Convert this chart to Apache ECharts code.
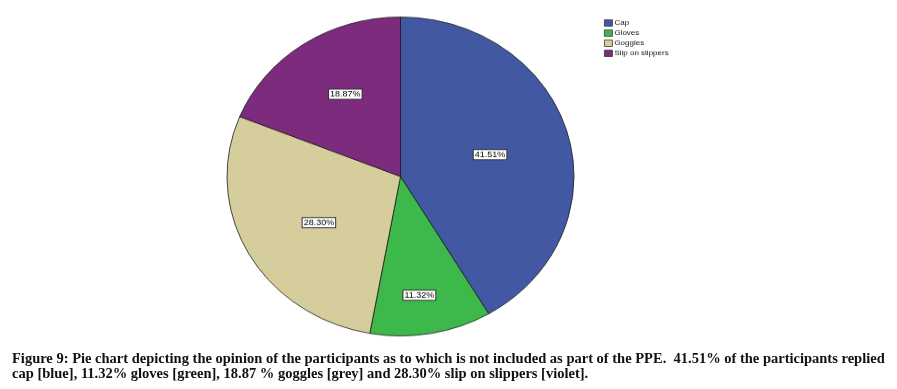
<!DOCTYPE html>
<html><head><meta charset="utf-8">
<script src="https://cdn.jsdelivr.net/npm/echarts@6/dist/echarts.min.js"></script>
<style>
html,body{margin:0;padding:0;background:#fff;}
#wrap{position:relative;width:897px;height:389px;overflow:hidden;}
#pie{position:absolute;left:0;top:0;width:897px;height:420px;transform:scaleY(0.919);transform-origin:0 0;}
#cap{position:absolute;left:0;top:0;width:897px;height:389px;pointer-events:none;}
</style></head><body>
<div id="wrap"><div id="pie"></div><div id="cap"></div></div>
<script>
const categories = ['Cap', 'Gloves', 'Goggles', 'Slip on slippers'];
const percents = [41.51, 11.32, 28.30, 18.87];
const sliceColors = ['#4358a3', '#3db84a', '#d5ce9c', '#7d2b7d'];
const captionLines = [
  'Figure 9: Pie chart depicting the opinion of the participants as to which is not included as part of the PPE.\u00a0 41.51% of the participants replied',
  'cap [blue], 11.32% gloves [green], 18.87 % goggles [grey] and 28.30% slip on slippers [violet].'
];
// label nudges (style only, not data)
const labelNudges = [[3, 0], [3, 41], [-3, 7], [-5, -15]];

const pieChart = echarts.init(document.getElementById('pie'), null, {renderer: 'canvas'});
pieChart.setOption({
  animation: false,
  backgroundColor: 'transparent',
  color: sliceColors,
  legend: {
    orient: 'vertical',
    left: 604,
    top: 21,
    padding: 0,
    itemWidth: 8,
    itemHeight: 7,
    itemGap: 3,
    icon: 'rect',
    selectedMode: false,
    itemStyle: {borderColor: '#333', borderWidth: 0.8},
    textStyle: {fontFamily: 'Liberation Sans, Arial, sans-serif', fontSize: 8, color: '#111', padding: [0, 0, 0, -3]},
    data: categories
  },
  series: [{
    type: 'pie',
    center: [400.5, 192],
    radius: 173.5,
    startAngle: 90,
    clockwise: true,
    silent: true,
    emphasis: {disabled: true},
    itemStyle: {borderColor: '#1a1a1a', borderWidth: 0.8},
    label: {
      show: true,
      position: 'inside',
      formatter: p => p.value.toFixed(2) + '%',
      fontFamily: 'Liberation Sans, Arial, sans-serif',
      fontSize: 9,
      lineHeight: 10,
      color: '#000',
      backgroundColor: '#fff',
      borderColor: '#333',
      borderWidth: 1,
      padding: [0, 1]
    },
    labelLine: {show: false},
    data: categories.map((c, i) => ({
      name: c,
      value: percents[i],
      label: {offset: labelNudges[i]}
    }))
  }]
});

const capChart = echarts.init(document.getElementById('cap'), null, {renderer: 'canvas'});
capChart.setOption({
  animation: false,
  backgroundColor: 'transparent',
  graphic: captionLines.map((t, i) => ({
    type: 'text',
    left: 12,
    top: 352 + i * 14.5,
    style: {
      text: t,
      fontFamily: 'Liberation Serif, Times New Roman, serif',
      fontWeight: 'bold',
      fontSize: 14.5,
      fill: '#111'
    }
  }))
});
</script>
</body></html>
